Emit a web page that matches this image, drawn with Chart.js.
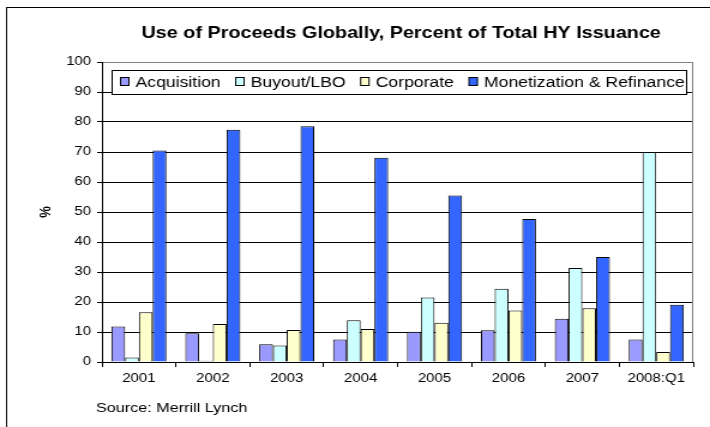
<!DOCTYPE html>
<html>
<head>
<meta charset="utf-8">
<script src="https://cdn.jsdelivr.net/npm/chart.js@4/dist/chart.umd.min.js"></script>
<style>
  html, body { margin: 0; padding: 0; background: #fff; }
</style>
</head>
<body>
<!-- the reference is stretched sideways, so the bitmap is drawn narrower and scaled up -->
<canvas id="chart" width="592" height="427" style="display:block;width:710px;height:427px"></canvas>
<script>
const categories = ['2001', '2002', '2003', '2004', '2005', '2006', '2007', '2008:Q1'];
const acquisition = [11.8, 9.6, 5.9, 7.5, 10.1, 10.6, 14.4, 7.5];
const buyout = [1.5, 0.4, 5.5, 13.9, 21.5, 24.4, 31.3, 70.0];
const corporate = [16.6, 12.7, 10.7, 11.0, 13.1, 17.2, 17.9, 3.3];
const monetization = [70.5, 77.4, 78.6, 68.1, 55.5, 47.7, 35.0, 19.1];
const seriesNames = ['Acquisition', 'Buyout/LBO', 'Corporate', 'Monetization & Refinance'];
const seriesColors = ['#9999FF', '#CCFFFF', '#FFFFCC', '#3366FF'];

const titleText = 'Use of Proceeds Globally, Percent of Total HY Issuance';
const sourceText = 'Source: Merrill Lynch';
const fontFamily = "'Liberation Sans', Arial, sans-serif";

Chart.defaults.font.family = fontFamily;
Chart.defaults.color = '#000';

// cadre, titre, source et légende dessinés à la main
const framePlugin = {
  id: 'frame',
  beforeDraw(chart) {
    const ctx = chart.ctx;
    const area = chart.chartArea;
    ctx.save();
    ctx.fillStyle = '#fff';
    ctx.fillRect(0, 0, chart.width, chart.height);
    ctx.strokeStyle = '#000';
    ctx.lineWidth = 1;
    ctx.strokeRect(5.5, 7.5, chart.width + 20, chart.height + 20);

    ctx.fillStyle = '#000';
    ctx.font = 'bold 16.5px ' + fontFamily;
    ctx.textAlign = 'center';
    ctx.textBaseline = 'middle';
    ctx.fillText(titleText, (area.left + area.right) / 2 + 3, 33);

    ctx.font = '13.5px ' + fontFamily;
    ctx.textAlign = 'left';
    ctx.fillText(sourceText, 80, 408);
    ctx.restore();
  },
  beforeDatasetsDraw(chart) {
    const ctx = chart.ctx;
    const area = chart.chartArea;
    ctx.save();
    ctx.strokeStyle = '#808080';
    ctx.lineWidth = 1;
    ctx.beginPath();
    ctx.moveTo(Math.round(area.right) - 0.5, area.top);
    ctx.lineTo(Math.round(area.right) - 0.5, area.bottom);
    ctx.stroke();
    ctx.restore();
  },
  afterDatasetsDraw(chart) {
    const ctx = chart.ctx;
    const boxLeft = 93.5, boxTop = 70.5, boxRight = 572.5, boxBottom = 94.5;
    ctx.save();
    ctx.fillStyle = '#fff';
    ctx.fillRect(boxLeft, boxTop, boxRight - boxLeft, boxBottom - boxTop);
    ctx.strokeStyle = '#000';
    ctx.lineWidth = 1;
    ctx.strokeRect(boxLeft, boxTop, boxRight - boxLeft, boxBottom - boxTop);

    ctx.font = '14.7px ' + fontFamily;
    ctx.textBaseline = 'middle';
    ctx.textAlign = 'left';
    let x = 100;
    chart.data.datasets.forEach((ds) => {
      ctx.fillStyle = ds.backgroundColor;
      ctx.fillRect(x + 0.5, 77.5, 7, 8);
      ctx.strokeStyle = '#000';
      ctx.strokeRect(x + 0.5, 77.5, 7, 8);
      ctx.fillStyle = '#000';
      ctx.fillText(ds.label, x + 13, 82.5);
      x += 13 + ctx.measureText(ds.label).width + 12;
    });
    ctx.restore();
  },
};

const datasets = [acquisition, buyout, corporate, monetization].map((values, i) => ({
  label: seriesNames[i],
  data: values,
  backgroundColor: seriesColors[i],
  borderColor: '#000',
  borderWidth: 1,
  categoryPercentage: 0.745,
  barPercentage: 1,
}));

new Chart(document.getElementById('chart'), {
  type: 'bar',
  data: {
    labels: categories,
    datasets,
  },
  options: {
    responsive: false,
    animation: false,
    events: [],
    layout: {
      padding: { left: 5, right: 14, top: 62, bottom: 35 },
    },
    plugins: {
      legend: { display: false },
      title: { display: false },
      tooltip: { enabled: false },
    },
    scales: {
      x: {
        grid: { drawOnChartArea: false, drawTicks: true, tickLength: 5, color: '#000', offset: true },
        border: { color: '#000' },
        ticks: { color: '#000', padding: 4, maxRotation: 0, autoSkip: false, font: { size: 12.5 } },
        afterFit(scale) { scale.height = 30; },
      },
      y: {
        min: 0,
        max: 100,
        ticks: { stepSize: 10, color: '#000', padding: 5, font: { size: 12.5 } },
        grid: {
          color: (c) => (c.tick && c.tick.value === 100 ? '#808080' : '#000'),
          tickColor: '#000',
          tickLength: 4,
        },
        border: { color: '#000' },
        title: {
          display: true,
          text: '%',
          color: '#000',
          font: { size: 13, weight: 'bold' },
          padding: { top: 26, bottom: 0 },
        },
        afterFit(scale) { scale.width = 80; },
      },
    },
  },
  plugins: [framePlugin],
});
</script>
</body>
</html>
